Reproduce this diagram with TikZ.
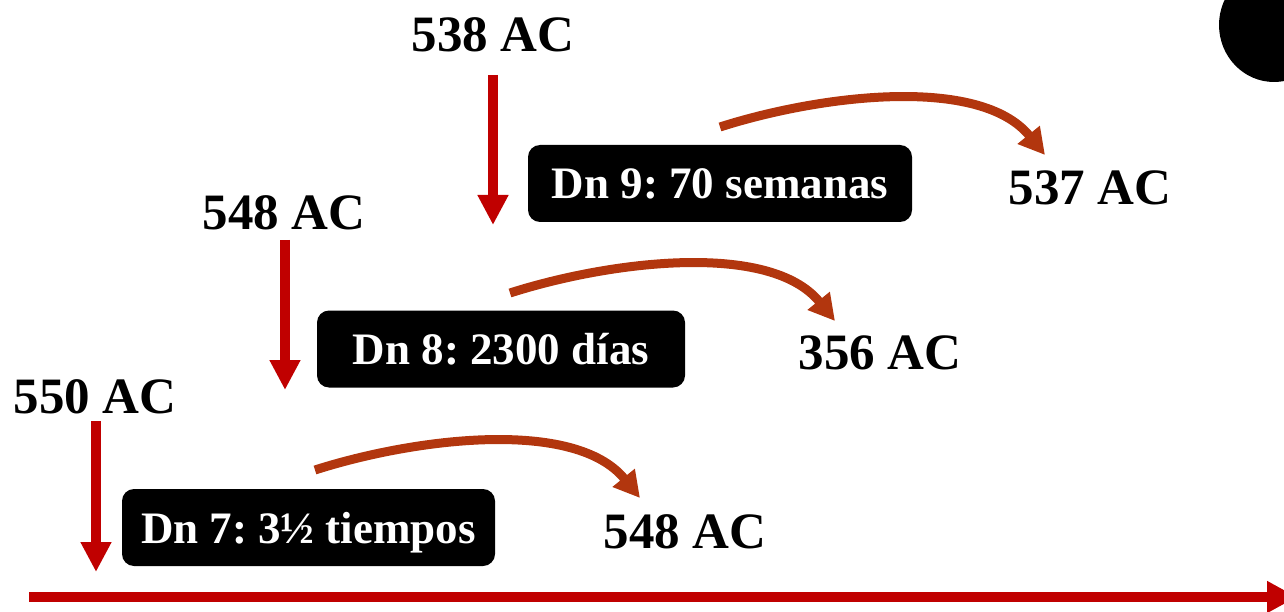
\documentclass[tikz,border=0pt]{standalone}
\usepackage{fontspec}
\setmainfont{Liberation Serif}
\usetikzlibrary{arrows.meta}
\definecolor{darkred}{RGB}{192,0,0}
\definecolor{rust}{RGB}{178,54,14}
\frenchspacing
\begin{document}
\begin{tikzpicture}[x=1pt,y=-1pt,
 lbl/.style={font=\fontsize{51}{60}\selectfont\bfseries, inner sep=0pt, anchor=center},
 dnbox/.style={fill=black, text=white, rounded corners=12pt, font=\fontsize{45}{54}\selectfont\bfseries\frenchspacing, minimum height=77pt, inner xsep=0pt, inner ysep=0pt, text height=31pt, text depth=0pt},
 downarr/.style={darkred, line width=10pt, -{Triangle[length=30pt,width=29pt]}},
 curvarr/.style={rust, line width=9pt, -{Triangle[length=26pt,width=27pt]}},
 timearr/.style={darkred, line width=10pt, -{Triangle[length=30pt,width=30pt]}},
]
\useasboundingbox (0,0) rectangle (1284,612);
\fill[black] (1274,25) ellipse (55pt and 57pt);

\node[lbl] (l538) at (493,35) {538 AC};
\node[lbl] (l537) at (1090,188) {537 AC};
\node[lbl] (l548a) at (284,213) {548 AC};
\node[lbl] (l356) at (880,353) {356 AC};
\node[lbl] (l550) at (95,397) {550 AC};
\node[lbl] (l548b) at (685,532) {548 AC};

\node[dnbox, minimum width=384pt] (d9) at (720,183.5) {Dn 9: 70 semanas};
\node[dnbox, minimum width=368pt] (d8) at (501,349) {Dn 8: 2300 días};
\node[dnbox, minimum width=373pt] (d7) at (308.5,527.5) {Dn 7: 3½ tiempos};

\coordinate (v1a) at (493,75);  \coordinate (v1b) at (493,225);
\coordinate (v2a) at (285,240); \coordinate (v2b) at (285,390);
\coordinate (v3a) at (96,421);  \coordinate (v3b) at (96,572);
\draw[downarr] (v1a) -- (v1b);
\draw[downarr] (v2a) -- (v2b);
\draw[downarr] (v3a) -- (v3b);

\coordinate (c1a) at (720,127); \coordinate (c1b) at (1045,155);
\coordinate (c2a) at (510,293); \coordinate (c2b) at (835,321);
\coordinate (c3a) at (315,470); \coordinate (c3b) at (640,498);
\draw[curvarr] (c1a) .. controls (820,95) and (980,75) .. (c1b);
\draw[curvarr] (c2a) .. controls (610,261) and (770,241) .. (c2b);
\draw[curvarr] (c3a) .. controls (415,438) and (575,418) .. (c3b);

\coordinate (ta) at (29,597); \coordinate (tb) at (1297,597);
\draw[timearr] (ta) -- (tb);
\end{tikzpicture}
\end{document}
